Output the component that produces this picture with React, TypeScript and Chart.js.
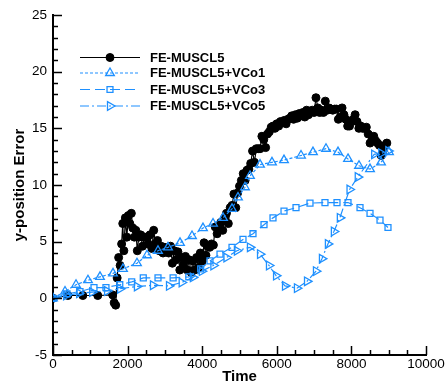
import React, { useEffect, useRef } from "react";
import { Chart, registerables } from "chart.js";

Chart.register(...registerables);

// FE-MUSCL5 (black, circles)
const musclT = [0, 400, 800, 1200, 1600, 1640, 1680, 1720, 1760, 1800, 1840, 1870, 1900, 1940, 1980, 2020, 2060, 2100, 2140, 2180, 2220, 2260, 2300, 2350, 2400, 2450, 2500, 2550, 2600, 2650, 2700, 2750, 2800, 2850, 2900, 2950, 3000, 3050, 3100, 3150, 3200, 3250, 3300, 3350, 3400, 3450, 3500, 3550, 3600, 3650, 3700, 3750, 3800, 3850, 3900, 3950, 4000, 4050, 4100, 4150, 4200, 4250, 4300, 4350, 4400, 4450, 4500, 4550, 4600, 4650, 4700, 4750, 4800, 4850, 4900, 4950, 5000, 5050, 5100, 5150, 5200, 5250, 5300, 5350, 5400, 5450, 5500, 5550, 5600, 5650, 5700, 5750, 5800, 5850, 5900, 5950, 6000, 6050, 6100, 6150, 6200, 6250, 6300, 6350, 6400, 6450, 6500, 6550, 6600, 6650, 6700, 6750, 6800, 6850, 6900, 6950, 7000, 7050, 7100, 7150, 7200, 7250, 7300, 7350, 7400, 7450, 7500, 7550, 7600, 7650, 7700, 7750, 7800, 7850, 7900, 7950, 8000, 8050, 8100, 8150, 8200, 8250, 8300, 8350, 8400, 8450, 8500, 8550, 8600, 8650, 8700, 8750, 8800, 8850, 8900, 8950];
const musclY = [0, 0.25, 0.25, 0.25, 0.3, -0.4, -0.6, 1.8, 3.6, 2.9, 4.8, 6.6, 4.2, 7.1, 5.4, 7.3, 6.6, 7.5, 6.2, 5.4, 6.0, 4.2, 5.4, 5.6, 4.6, 5.4, 5.4, 4.8, 5.6, 4.4, 6.0, 4.8, 5.1, 4.2, 4.6, 4.0, 4.5, 4.2, 4.0, 4.6, 3.1, 4.2, 3.4, 4.1, 2.5, 3.6, 3.0, 3.7, 2.5, 3.4, 2.3, 3.3, 2.5, 3.6, 2.7, 4.0, 3.3, 4.9, 3.8, 4.6, 4.5, 4.8, 4.7, 6.3, 5.7, 6.0, 6.7, 6.0, 7.1, 7.5, 6.6, 8.0, 8.2, 9.2, 8.0, 9.3, 9.9, 10.4, 11.0, 10.4, 11.3, 11.4, 11.9, 13.0, 12.0, 13.2, 13.2, 13.2, 14.3, 14.0, 13.3, 14.5, 14.7, 15.1, 15.2, 15.0, 15.4, 15.2, 15.6, 15.5, 15.7, 15.4, 15.8, 15.9, 16.1, 15.8, 16.2, 15.9, 16.3, 16.1, 16.4, 16.0, 16.6, 16.2, 16.5, 16.6, 16.4, 17.7, 16.8, 16.4, 16.6, 16.4, 17.4, 16.6, 16.8, 16.7, 16.6, 16.7, 16.7, 15.8, 16.0, 16.8, 16.2, 15.8, 15.2, 15.2, 15.6, 15.8, 16.2, 15.6, 15.0, 15.2, 15.0, 15.0, 15.1, 14.5, 13.7, 13.9, 14.3, 13.9, 13.7, 13.5, 12.6, 13.0, 13.5, 13.7];

// FE-MUSCL5+VCo1 (triangles, dotted)
const vco1T = [0, 322, 617, 938, 1260, 1609, 1877, 2252, 2520, 2815, 3083, 3405, 3727, 4021, 4290, 4558, 4799, 4960, 5147, 5281, 5550, 5871, 6193, 6649, 6970, 7319, 7641, 7909, 8204, 8499, 8794, 9008];
const vco1Y = [0, 0.6, 1.2, 1.6, 1.9, 2.2, 2.6, 3.1, 3.8, 4.2, 4.5, 4.9, 5.5, 6.2, 6.6, 7.1, 7.9, 8.9, 9.8, 10.8, 11.8, 12.0, 12.2, 12.6, 12.9, 13.2, 12.9, 12.3, 11.7, 11.4, 12.0, 12.9];

// FE-MUSCL5+VCo3 (squares, dashed)
const vco3T = [0, 375, 724, 1099, 1420, 1790, 2110, 2420, 2815, 3220, 3640, 3960, 4209, 4477, 4799, 5094, 5362, 5657, 5898, 6193, 6515, 6890, 7292, 7614, 7909, 8231, 8499, 8767, 8981];
const vco3Y = [0, 0.4, 0.6, 0.95, 0.95, 1.2, 1.45, 1.8, 1.8, 1.8, 1.9, 2.6, 3.3, 3.9, 4.5, 5.2, 5.7, 6.5, 7.1, 7.7, 8.0, 8.4, 8.45, 8.45, 8.45, 8.0, 7.5, 6.9, 6.25];

// FE-MUSCL5+VCo5 (right triangles, dash-dot)
const vco5T = [0, 350, 700, 1050, 1450, 1800, 2250, 2680, 3110, 3450, 3750, 3990, 4300, 4650, 4930, 5280, 5550, 5790, 5980, 6220, 6540, 6810, 7050, 7210, 7370, 7530, 7690, 7950, 8170, 8610, 8800, 8990];
const vco5Y = [0, 0.25, 0.45, 0.55, 0.65, 0.85, 1.05, 1.15, 1.1, 1.4, 1.85, 2.4, 2.9, 3.6, 4.2, 4.5, 3.9, 2.9, 2.0, 1.1, 0.9, 1.5, 2.4, 3.5, 4.8, 5.9, 7.1, 9.6, 10.7, 12.7, 12.8, 13.0];

const seriesNames = ["FE-MUSCL5", "FE-MUSCL5+VCo1", "FE-MUSCL5+VCo3", "FE-MUSCL5+VCo5"];
const xTickValues = [0, 2000, 4000, 6000, 8000, 10000];
const yTickValues = [-5, 0, 5, 10, 15, 20, 25];

const BLUE = "rgb(30,144,255)";
const FONT = '"Liberation Sans", Arial, Helvetica, sans-serif';

const toXY = (t: number[], y: number[]) => t.map((v, i) => ({ x: v, y: y[i] }));

function drawMarker(ctx: CanvasRenderingContext2D, style: string, x: number, y: number, r: number, rotation: number) {
  ctx.beginPath();
  if (style === "circle") {
    ctx.arc(x, y, r, 0, Math.PI * 2);
  } else if (style === "rect") {
    const s = Math.SQRT1_2 * r;
    ctx.rect(x - s, y - s, 2 * s, 2 * s);
  } else if (style === "triangle") {
    let rad = (rotation * Math.PI) / 180;
    ctx.moveTo(x + Math.sin(rad) * r, y - Math.cos(rad) * r);
    rad += (2 * Math.PI) / 3;
    ctx.lineTo(x + Math.sin(rad) * r, y - Math.cos(rad) * r);
    rad += (2 * Math.PI) / 3;
    ctx.lineTo(x + Math.sin(rad) * r, y - Math.cos(rad) * r);
    ctx.closePath();
  }
}

const decorPlugin = {
  id: "decor",
  afterDraw(chart: any) {
    const ctx: CanvasRenderingContext2D = chart.ctx;
    const xs = chart.scales.x;
    const ys = chart.scales.y;
    const area = chart.chartArea;
    ctx.save();
    ctx.strokeStyle = "#000";
    ctx.lineWidth = 1.5;
    for (let v = -5; v <= 25; v += 1) {
      const py = Math.round(ys.getPixelForValue(v)) + 0.5;
      const len = v % 5 === 0 ? 9 : 5;
      ctx.beginPath();
      ctx.moveTo(area.left, py);
      ctx.lineTo(area.left + len, py);
      ctx.stroke();
    }
    for (let v = 0; v <= 10000; v += 500) {
      const px = Math.round(xs.getPixelForValue(v)) + 0.5;
      const len = v % 2000 === 0 ? 9 : 5;
      ctx.beginPath();
      ctx.moveTo(px, area.bottom);
      ctx.lineTo(px, area.bottom - len);
      ctx.stroke();
    }
    ctx.fillStyle = "#000";
    ctx.font = `bold 15px ${FONT}`;
    ctx.textAlign = "center";
    ctx.textBaseline = "middle";
    ctx.fillText("Time", (area.left + area.right) / 2, 377);
    ctx.save();
    ctx.translate(20, (area.top + area.bottom) / 2);
    ctx.rotate(-Math.PI / 2);
    ctx.fillText("y-position Error", 0, 0);
    ctx.restore();

    const rows = [57.5, 73, 89.5, 106];
    chart.data.datasets.forEach((ds: any, i: number) => {
      const y = rows[i];
      ctx.save();
      ctx.strokeStyle = ds.borderColor;
      ctx.lineWidth = ds.borderWidth;
      ctx.setLineDash(ds.borderDash || []);
      ctx.beginPath();
      ctx.moveTo(80, y);
      ctx.lineTo(140, y);
      ctx.stroke();
      ctx.setLineDash([]);
      ctx.fillStyle = ds.pointBackgroundColor;
      ctx.strokeStyle = ds.pointBorderColor;
      ctx.lineWidth = ds.pointBorderWidth;
      drawMarker(ctx, ds.pointStyle, 110, y, ds.pointRadius, ds.pointRotation || 0);
      ctx.fill();
      ctx.stroke();
      ctx.restore();
      ctx.fillStyle = "#000";
      ctx.font = `bold 13px ${FONT}`;
      ctx.textAlign = "left";
      ctx.textBaseline = "middle";
      ctx.fillText(ds.label, 150, y + 0.5);
    });
    ctx.restore();
  },
};

export default function App() {
  const canvasRef = useRef<HTMLCanvasElement>(null);

  useEffect(() => {
    const canvas = canvasRef.current;
    if (!canvas) return;
    const chart = new Chart(canvas, {
      type: "line",
      data: {
        datasets: [
          {
            label: seriesNames[0],
            data: toXY(musclT, musclY),
            borderColor: "#000",
            borderWidth: 1.2,
            pointStyle: "circle",
            pointRadius: 4,
            pointBackgroundColor: "#000",
            pointBorderColor: "#000",
            pointBorderWidth: 1,
            order: 3,
          },
          {
            label: seriesNames[1],
            data: toXY(vco1T, vco1Y),
            borderColor: BLUE,
            borderWidth: 1.2,
            borderDash: [3, 2],
            pointStyle: "triangle",
            pointRadius: 5,
            pointBackgroundColor: "rgba(255,255,255,0)",
            pointBorderColor: BLUE,
            pointBorderWidth: 1.3,
            order: 2,
          },
          {
            label: seriesNames[2],
            data: toXY(vco3T, vco3Y),
            borderColor: BLUE,
            borderWidth: 1.2,
            borderDash: [10, 5],
            pointStyle: "rect",
            pointRadius: 4.2,
            pointBackgroundColor: "rgba(255,255,255,0)",
            pointBorderColor: BLUE,
            pointBorderWidth: 1.3,
            order: 1,
          },
          {
            label: seriesNames[3],
            data: toXY(vco5T, vco5Y),
            borderColor: BLUE,
            borderWidth: 1.2,
            borderDash: [9, 3, 2, 3],
            pointStyle: "triangle",
            pointRotation: 90,
            pointRadius: 5,
            pointBackgroundColor: "rgba(255,255,255,0)",
            pointBorderColor: BLUE,
            pointBorderWidth: 1.3,
            order: 0,
          },
        ] as any,
      },
      options: {
        animation: false,
        responsive: false,
        maintainAspectRatio: false,
        events: [],
        layout: { padding: { left: 0, right: 19, top: 15, bottom: 0 } },
        plugins: {
          legend: { display: false },
          tooltip: { enabled: false },
          title: { display: false },
        },
        elements: { line: { tension: 0 } },
        scales: {
          x: {
            type: "linear",
            min: 0,
            max: 10000,
            afterBuildTicks: (s: any) => {
              s.ticks = xTickValues.map((v) => ({ value: v }));
            },
            afterFit: (s: any) => {
              s.height = 33;
              s.paddingLeft = 0;
              s.paddingRight = 0;
            },
            grid: { display: false, drawTicks: false },
            border: { display: true, color: "#000", width: 2 },
            ticks: {
              color: "#000",
              font: { family: FONT, size: 13.5 },
              padding: 1,
              maxRotation: 0,
              autoSkip: false,
              callback: (v: any) => String(v),
            },
          },
          y: {
            type: "linear",
            min: -5,
            max: 25,
            afterBuildTicks: (s: any) => {
              s.ticks = yTickValues.map((v) => ({ value: v }));
            },
            afterFit: (s: any) => {
              s.width = 53;
              s.paddingTop = 0;
              s.paddingBottom = 0;
            },
            grid: { display: false, drawTicks: false },
            border: { display: true, color: "#000", width: 2 },
            ticks: {
              color: "#000",
              font: { family: FONT, size: 13.5 },
              padding: 6,
              autoSkip: false,
              callback: (v: any) => String(v),
            },
          },
        },
      } as any,
      plugins: [decorPlugin],
    });
    return () => chart.destroy();
  }, []);

  return (
    <div style={{ position: "fixed", left: 0, top: 0, width: 445, height: 388, background: "#fff" }}>
      <canvas ref={canvasRef} width={445} height={388} style={{ width: 445, height: 388, display: "block" }} />
    </div>
  );
}
